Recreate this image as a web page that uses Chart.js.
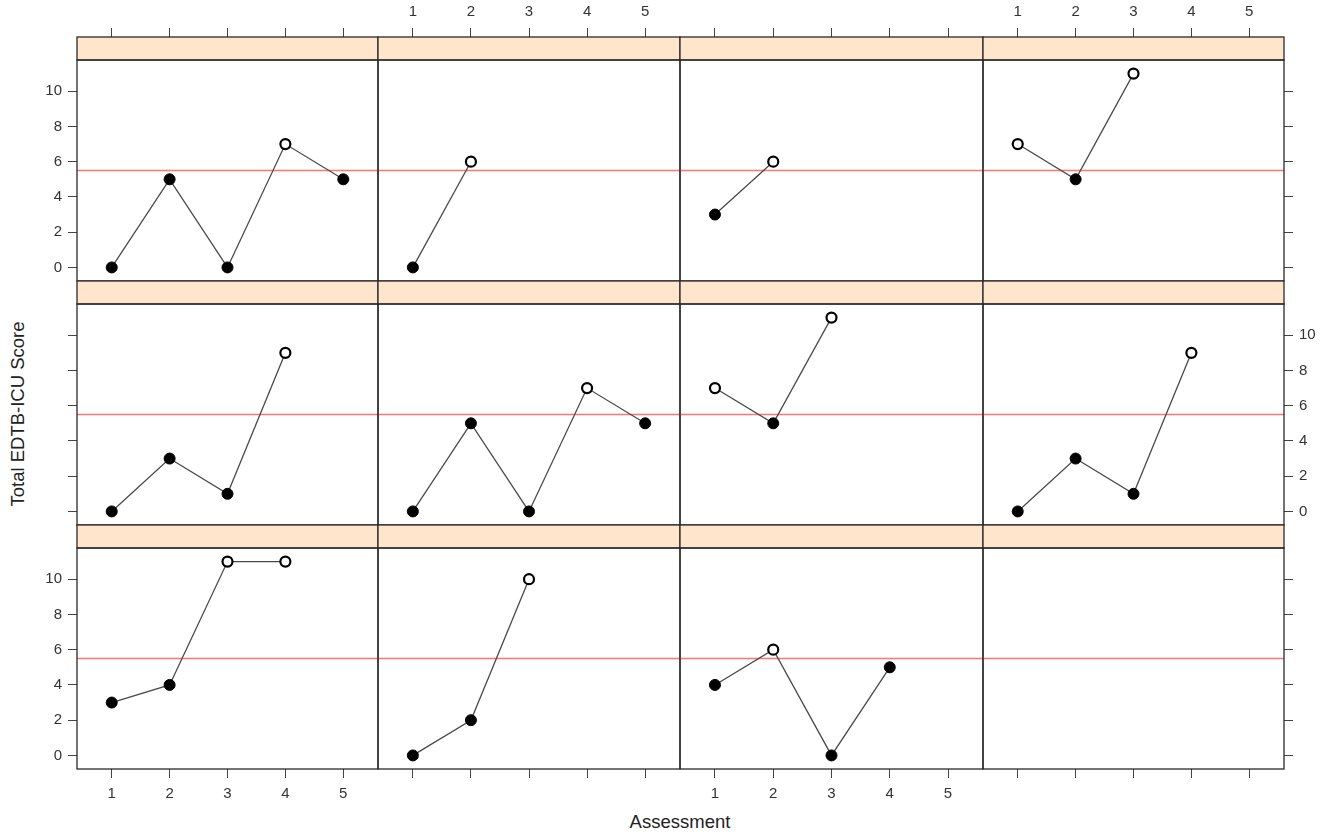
<!DOCTYPE html>
<html>
<head>
<meta charset="utf-8">
<script src="https://cdn.jsdelivr.net/npm/chart.js@4.4.1/dist/chart.umd.min.js"></script>
<style>
    body { margin: 0; background: #fff; }
    #wrap { position: relative; width: 1335px; height: 834px; overflow: hidden; background: #fff; }
    #wrap canvas { position: absolute; }
    .title { position: absolute; font-family: "Liberation Sans", Arial, sans-serif; font-size: 18.5px; color: #222; white-space: nowrap; transform: translate(-50%, -50%); }
    #ytitle { left: 18px; top: 414px; transform: translate(-50%, -50%) rotate(-90deg); }
    #xtitle { left: 680px; top: 822px; }
</style>
</head>
<body>
<div id="wrap">
    <div class="title" id="ytitle">Total EDTB-ICU Score</div>
    <div class="title" id="xtitle">Assessment</div>
</div>
<script>
// values
const assessments = [1, 2, 3, 4, 5];
const scoreTicks = [0, 2, 4, 6, 8, 10];
const cutoff = 5.5;

const p1 = [0, 5, 0, 7, 5];
const p2 = [0, 6];
const p3 = [3, 6];
const p4 = [7, 5, 11];
const p5 = [0, 3, 1, 9];
const p6 = [0, 5, 0, 7, 5];
const p7 = [7, 5, 11];
const p8 = [0, 3, 1, 9];
const p9 = [3, 4, 11, 11];
const p10 = [0, 2, 10];
const p11 = [4, 6, 0, 5];
const p12 = [];

const panels = [p1, p2, p3, p4, p5, p6, p7, p8, p9, p10, p11, p12];

// layout of the lattice
const colLeft = [77, 378, 680, 983];
const colWidth = [301, 302, 303, 301];
const stripTop = 37;
const stripH = 23;
const plotH = 221;
const rowStep = 244;
const M = { l: 60, r: 60, t: 60, b: 50 };

const tickFont = { family: '"Liberation Sans", Arial, sans-serif', size: 15 };
const tickColor = '#333';
const lineColor = '#444';

const panelFrame = {
    id: 'panelFrame',
    beforeDatasetsDraw(chart) {
        const ctx = chart.ctx;
        const area = chart.chartArea;
        const y = chart.scales.y.getPixelForValue(cutoff);
        ctx.save();
        ctx.strokeStyle = 'rgba(255, 80, 80, 0.8)';
        ctx.lineWidth = 1.3;
        ctx.beginPath();
        ctx.moveTo(area.left, y);
        ctx.lineTo(area.right, y);
        ctx.stroke();
        ctx.restore();
    },
    afterDraw(chart) {
        const ctx = chart.ctx;
        const { left, top, right, bottom } = chart.chartArea;
        ctx.save();
        ctx.fillStyle = '#ffe5cc';
        ctx.fillRect(left, top - stripH, right - left, stripH);
        ctx.strokeStyle = '#2a2a2a';
        ctx.lineWidth = 1.3;
        ctx.strokeRect(left, top - stripH, right - left, stripH);
        ctx.strokeRect(left, top, right - left, bottom - top);
        ctx.restore();
    }
};

function isOpen(ctx) {
    return ctx.raw && ctx.raw.y > cutoff;
}

function makeAxis(position, min, max, tickValues, showTicks, showLabels, size, tickLength, padding) {
    const horizontal = position === 'top' || position === 'bottom';
    return {
        type: 'linear',
        position: position,
        min: min,
        max: max,
        afterBuildTicks: scale => {
            scale.ticks = tickValues.map(v => ({ value: v }));
        },
        afterFit: scale => {
            if (horizontal) scale.height = size;
            else scale.width = size;
        },
        border: { display: false },
        grid: {
            display: showTicks,
            drawOnChartArea: false,
            drawTicks: true,
            tickLength: tickLength,
            color: lineColor,
            lineWidth: 1
        },
        ticks: {
            display: showLabels,
            autoSkip: false,
            maxRotation: 0,
            padding: padding,
            color: tickColor,
            font: tickFont
        }
    };
}

const wrap = document.getElementById('wrap');

panels.forEach((scores, idx) => {
    const r = Math.floor(idx / 4);
    const c = idx % 4;

    const canvas = document.createElement('canvas');
    const w = colWidth[c] + M.l + M.r;
    const h = plotH + M.t + M.b;
    canvas.width = w;
    canvas.height = h;
    canvas.style.width = w + 'px';
    canvas.style.height = h + 'px';
    canvas.style.left = (colLeft[c] - M.l) + 'px';
    canvas.style.top = (stripTop + stripH + rowStep * r - M.t) + 'px';
    wrap.appendChild(canvas);

    const points = scores.map((v, i) => ({ x: assessments[i], y: v }));

    new Chart(canvas, {
        type: 'line',
        data: {
            datasets: [{
                data: points,
                borderColor: '#4a4a4a',
                borderWidth: 1.3,
                tension: 0,
                fill: false,
                clip: false,
                pointRadius: ctx => isOpen(ctx) ? 5 : 5.5,
                pointBorderWidth: ctx => isOpen(ctx) ? 2.2 : 1,
                pointBackgroundColor: ctx => isOpen(ctx) ? '#fff' : '#000',
                pointBorderColor: '#000'
            }]
        },
        options: {
            responsive: false,
            animation: false,
            events: [],
            layout: { padding: 0 },
            plugins: { legend: { display: false }, tooltip: { enabled: false } },
            scales: {
                x: makeAxis('bottom', 0.4, 5.6, assessments, r === 2, r === 2 && c % 2 === 0, M.b, 9, 7),
                xTop: makeAxis('top', 0.4, 5.6, assessments, r === 0, r === 0 && c % 2 === 1, M.t, stripH + 9, 7),
                y: makeAxis('left', -0.77, 11.77, scoreTicks, c === 0, c === 0 && r !== 1, M.l, 9, 6),
                yRight: makeAxis('right', -0.77, 11.77, scoreTicks, c === 3, c === 3 && r === 1, M.r, 9, 6)
            }
        },
        plugins: [panelFrame]
    });
});
</script>
</body>
</html>
